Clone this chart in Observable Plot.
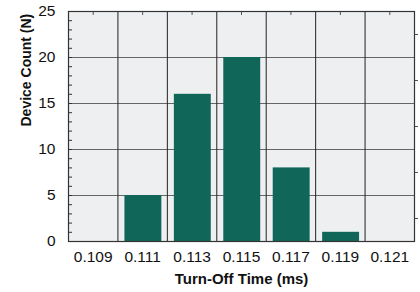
<!DOCTYPE html>
<html><head><meta charset="utf-8">
<script src="https://cdn.jsdelivr.net/npm/d3@7"></script>
<script src="https://cdn.jsdelivr.net/npm/@observablehq/plot@0.6"></script>
<style>body{margin:0;background:#fff}</style>
</head><body><div id="chart"></div>
<script>
const binCenters = [0.109, 0.111, 0.113, 0.115, 0.117, 0.119, 0.121];
const counts = [0, 5, 16, 20, 8, 1, 0];
const binWidth = 0.002;
const yMajor = [0, 5, 10, 15, 20, 25];
const yMinor = d3.range(0, 26);
const yRight = [2.5, 7.5, 12.5, 17.5, 22.5];
const xLabel = "Turn-Off Time (ms)";
const yLabel = "Device Count (N)";

const data = binCenters.map((c, i) => ({c, n: counts[i]}));
const edges = d3.range(0, binCenters.length + 1).map(i => binCenters[0] - binWidth / 2 + i * binWidth);

const chart = Plot.plot({
  width: 420, height: 292,
  marginLeft: 68, marginRight: 6, marginTop: 11, marginBottom: 51,
  style: {fontFamily: "'Liberation Sans', Arial, sans-serif", background: "#fff"},
  x: {domain: [edges[0], edges[edges.length - 1]]},
  y: {domain: [0, 25]},
  marks: [
    Plot.frame({fill: "#eeeff1"}),
    Plot.ruleY(yMajor.slice(1, -1), {stroke: "#666", strokeWidth: 1.2}),
    Plot.ruleX(edges.slice(1, -1), {stroke: "#222", strokeWidth: 1}),
    Plot.rectY(data, {x1: d => d.c - binWidth / 2, x2: d => d.c + binWidth / 2, y: "n", fill: "#11665a", insetLeft: 7, insetRight: 5.5}),
    Plot.axisY({anchor: "left", ticks: yMinor, tickSize: -4, tickFormat: () => "", stroke: "#333", label: null}),
    Plot.axisY({anchor: "left", ticks: yMajor, tickSize: 0, tickPadding: 13, fontSize: 15.5, fill: "#111", label: null}),
    Plot.axisY({anchor: "right", ticks: yRight, tickSize: 3, tickFormat: () => "", stroke: "#555", label: null}),
    Plot.axisX({anchor: "top", ticks: binCenters, tickSize: -3, tickFormat: () => "", stroke: "#555", label: null}),
    Plot.axisX({anchor: "bottom", ticks: binCenters, tickSize: 0, tickPadding: 9, tickFormat: d3.format(".3f"), fontSize: 15.5, fill: "#111", label: null}),
    Plot.frame({stroke: "#333", strokeWidth: 1.2}),
    Plot.text([xLabel], {frameAnchor: "bottom", dy: 42, fontWeight: "bold", fontSize: 15, fill: "#111"}),
    Plot.text([yLabel], {frameAnchor: "left", dx: -42, rotate: -90, fontWeight: "bold", fontSize: 14, fill: "#111"})
  ]
});
document.getElementById("chart").append(chart);
</script>
</body></html>
